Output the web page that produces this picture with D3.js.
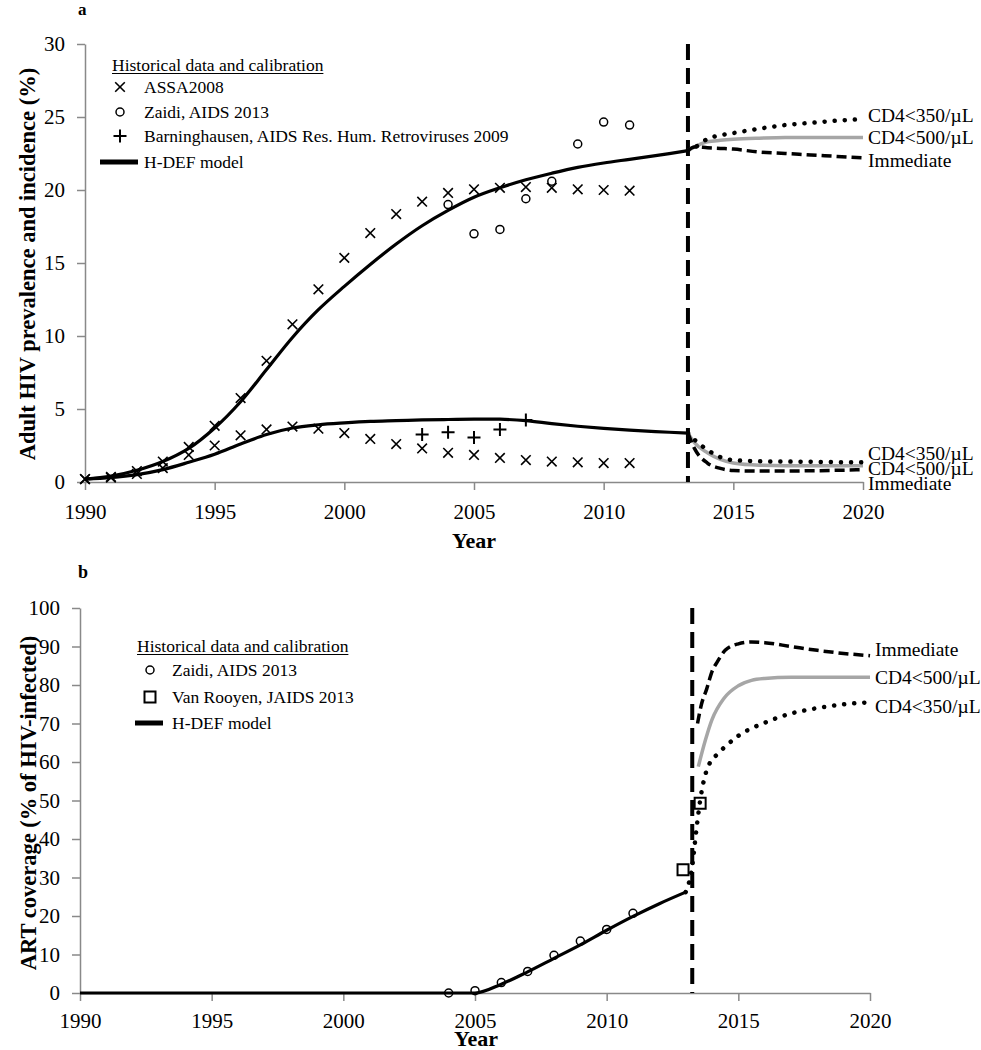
<!DOCTYPE html>
<html lang="en">
  <head>
    <meta charset="UTF-8" />
    <script src="https://d3js.org/d3.v7.min.js"></script>
    <style>
      body { margin: 0; background: #fff; }
      text { font-family: 'Liberation Serif', 'Times New Roman', serif; fill: #000; }
    </style>
  </head>
  <body>
    <div id="chart"></div>
    <script>
      // ---------- data ----------
      const xTicks = [1990, 1995, 2000, 2005, 2010, 2015, 2020]
      const yTicksA = [0, 5, 10, 15, 20, 25, 30]
      const yTicksB = [0, 10, 20, 30, 40, 50, 60, 70, 80, 90, 100]
      const interventionYear = 2013.25

      // panel a: historical data
      const assaYears = [1990, 1991, 1992, 1993, 1994, 1995, 1996, 1997, 1998, 1999, 2000,
        2001, 2002, 2003, 2004, 2005, 2006, 2007, 2008, 2009, 2010, 2011]
      const assaPrevalence = [0.2, 0.35, 0.75, 1.4, 2.4, 3.85, 5.75, 8.3, 10.8, 13.2, 15.35,
        17.05, 18.35, 19.2, 19.8, 20.05, 20.15, 20.2, 20.15, 20.05, 20.0, 19.95]
      const assaIncidence = [0.2, 0.3, 0.55, 0.95, 1.85, 2.5, 3.2, 3.6, 3.8, 3.65, 3.35,
        2.95, 2.6, 2.3, 2.0, 1.85, 1.65, 1.5, 1.4, 1.35, 1.3, 1.3]
      const zaidiPrevYears = [2004, 2005, 2006, 2007, 2008, 2009, 2010, 2011]
      const zaidiPrevalence = [19.0, 17.0, 17.3, 19.4, 20.6, 23.15, 24.65, 24.45]
      const barnYears = [2003, 2004, 2005, 2006, 2007]
      const barnIncidence = [3.25, 3.4, 3.05, 3.6, 4.25]

      // panel a: H-DEF model
      const modelYearsA = [1990, 1991, 1992, 1993, 1994, 1995, 1996, 1997, 1998, 1999, 2000,
        2001, 2002, 2003, 2004, 2005, 2006, 2007, 2008, 2009, 2010, 2011, 2012, 2013.25]
      const modelPrevalence = [0.2, 0.4, 0.8, 1.4, 2.3, 3.7, 5.5, 7.7, 9.9, 11.8, 13.4,
        14.9, 16.3, 17.55, 18.6, 19.5, 20.15, 20.7, 21.15, 21.55, 21.85, 22.1, 22.35, 22.7]
      const modelIncidence = [0.2, 0.3, 0.5, 0.85, 1.35, 1.9, 2.6, 3.25, 3.7, 3.92, 4.05,
        4.15, 4.2, 4.25, 4.28, 4.3, 4.3, 4.2, 4.0, 3.82, 3.67, 3.55, 3.45, 3.35]

      // panel a: scenarios
      const scenYearsA = [2013.25, 2013.5, 2014, 2014.5, 2015, 2016, 2017, 2018, 2019, 2020]
      const prev350 = [22.7, 22.9, 23.5, 23.75, 23.9, 24.2, 24.45, 24.6, 24.75, 24.85]
      const prev500 = [22.7, 22.95, 23.3, 23.4, 23.47, 23.55, 23.6, 23.6, 23.6, 23.6]
      const prevImmediate = [22.7, 22.95, 22.9, 22.85, 22.8, 22.6, 22.5, 22.4, 22.3, 22.2]
      const inc350 = [3.35, 2.9, 2.2, 1.7, 1.5, 1.42, 1.4, 1.38, 1.36, 1.35]
      const inc500 = [3.35, 2.7, 2.0, 1.55, 1.3, 1.15, 1.12, 1.12, 1.12, 1.12]
      const incImmediate = [3.35, 2.3, 1.3, 0.93, 0.78, 0.75, 0.75, 0.77, 0.8, 0.85]

      // panel b: ART coverage
      const zaidiArtYears = [2004, 2005, 2006, 2007, 2008, 2009, 2010, 2011]
      const zaidiArt = [0, 0.6, 2.7, 5.6, 9.8, 13.5, 16.5, 20.7]
      const vanRooyenYears = [2012.9, 2013.55]
      const vanRooyenArt = [32, 49.3]
      const modelYearsB = [1990, 1995, 2000, 2004, 2005, 2006, 2007, 2008, 2009, 2010, 2011, 2012, 2013]
      const modelArt = [0, 0, 0, 0, 0, 2.3, 5.5, 9.0, 12.5, 16.3, 19.9, 23.2, 26.2]
      const art350Years = [2013, 2013.25, 2013.4, 2013.55, 2013.7, 2013.9, 2014.2, 2014.5, 2015, 2016, 2017, 2018, 2019, 2020]
      const art350 = [26.2, 33, 42, 50, 55.5, 59.5, 62, 64, 66.8, 70.2, 72.6, 74, 75, 75.5]
      const art500Years = [2013.48, 2013.75, 2014, 2014.45, 2015, 2015.5, 2016, 2017, 2018, 2019, 2020]
      const art500 = [58.8, 65.7, 71, 76.5, 79.8, 81.2, 81.7, 82, 82, 82, 82]
      const artImmYears = [2013.45, 2013.6, 2013.8, 2014, 2014.2, 2014.5, 2015, 2015.5, 2016, 2017, 2018, 2019, 2020]
      const artImmediate = [70, 75, 79, 83.5, 86, 89, 90.7, 91.2, 91, 90, 89, 88.2, 87.6]

      // ---------- setup ----------
      const width = 981, height = 1050
      const serif = "'Liberation Serif', 'Times New Roman', serif"
      const svg = d3.select('#chart').append('svg')
        .attr('width', width).attr('height', height)
        .style('font-family', serif)

      const axisColor = '#898989'
      const grayLine = '#a6a6a6'

      const styles = {
        model: { stroke: '#000', width: 3.2, dash: null, cap: 'butt' },
        dotted: { stroke: '#000', width: 4.5, dash: '0.1,10', cap: 'round' },
        gray: { stroke: grayLine, width: 3.5, dash: null, cap: 'butt' },
        dashed: { stroke: '#000', width: 3.5, dash: '10,5', cap: 'butt' }
      }

      function markerPath(type, s) {
        if (type === 'x') return `M${-s},${-s}L${s},${s}M${-s},${s}L${s},${-s}`
        if (type === 'plus') return `M${-s},0L${s},0M0,${-s}L0,${s}`
        if (type === 'square') return `M${-s},${-s}H${s}V${s}H${-s}Z`
        return ''
      }

      function drawMarker(g, type, cx, cy) {
        if (type === 'circle') {
          g.append('circle').attr('cx', cx).attr('cy', cy).attr('r', 4)
            .attr('fill', 'none').attr('stroke', '#000').attr('stroke-width', 1.5)
        } else {
          const s = type === 'x' ? 4.8 : type === 'plus' ? 6.5 : 5.5
          g.append('path').attr('d', markerPath(type, s))
            .attr('transform', `translate(${cx},${cy})`)
            .attr('fill', 'none').attr('stroke', '#000')
            .attr('stroke-width', type === 'x' ? 1.6 : 2)
        }
      }

      function drawLine(g, x, y, xs, ys, st, curve) {
        const line = d3.line().x(d => x(d[0])).y(d => y(d[1])).curve(curve || d3.curveMonotoneX)
        g.append('path')
          .datum(d3.zip(xs, ys))
          .attr('d', line)
          .attr('fill', 'none')
          .attr('stroke', st.stroke)
          .attr('stroke-width', st.width)
          .attr('stroke-dasharray', st.dash)
          .attr('stroke-linecap', st.cap)
      }

      function drawAxes(g, x, y, yTicks, xLabelOffset) {
        const ax = g.append('g')
          .attr('transform', `translate(0,${y.range()[0]})`)
          .call(d3.axisBottom(x).tickValues(xTicks).tickFormat(d3.format('d'))
            .tickSize(8).tickSizeOuter(0).tickPadding(xLabelOffset))
        const ay = g.append('g')
          .attr('transform', `translate(${x.range()[0]},0)`)
          .call(d3.axisLeft(y).tickValues(yTicks).tickSize(8).tickSizeOuter(0).tickPadding(12))
        ;[ax, ay].forEach(a => {
          a.attr('font-family', null).style('font-family', serif)
          a.select('.domain').attr('stroke', axisColor).attr('stroke-width', 1.5)
          a.selectAll('.tick line').attr('stroke', axisColor).attr('stroke-width', 1.5)
          a.selectAll('.tick text').attr('font-size', 21)
            .style('font-family', serif).attr('fill', '#000')
        })
      }

      function drawLegend(g, lx, headerY, items, textX) {
        const header = g.append('text').attr('x', lx).attr('y', headerY)
          .attr('font-size', 17.5).text('Historical data and calibration')
        const w = header.node().getComputedTextLength()
        g.append('line').attr('x1', lx).attr('x2', lx + w)
          .attr('y1', headerY + 2.5).attr('y2', headerY + 2.5)
          .attr('stroke', '#000').attr('stroke-width', 1)
        items.forEach(it => {
          const cy = it.y
          if (it.type === 'line') {
            g.append('line').attr('x1', it.x1).attr('x2', it.x2)
              .attr('y1', cy).attr('y2', cy)
              .attr('stroke', '#000').attr('stroke-width', 5)
          } else {
            drawMarker(g, it.type, it.mx, cy)
          }
          g.append('text').attr('x', textX).attr('y', cy)
            .attr('dy', '0.33em').attr('font-size', 17.5).text(it.label)
        })
      }

      function drawEndLabels(g, x, y, labels) {
        labels.forEach(l => {
          g.append('text').attr('x', x(2020) + 5).attr('y', y(l.value) + l.dy)
            .attr('dy', '0.33em').attr('font-size', 19.5).text(l.text)
        })
      }

      // ---------- panel a ----------
      const xA = d3.scaleLinear().domain([1990, 2020]).range([85, 863])
      const yA = d3.scaleLinear().domain([0, 30]).range([482, 44])
      const gA = svg.append('g')

      drawAxes(gA, xA, yA, yTicksA, 14)

      // intervention line
      gA.append('line')
        .attr('x1', xA(interventionYear)).attr('x2', xA(interventionYear))
        .attr('y1', yA(30)).attr('y2', yA(0))
        .attr('stroke', '#000').attr('stroke-width', 4).attr('stroke-dasharray', '16,8')

      const smooth = d3.curveCatmullRom.alpha(0.5)
      drawLine(gA, xA, yA, modelYearsA, modelPrevalence, styles.model, smooth)
      drawLine(gA, xA, yA, modelYearsA, modelIncidence, styles.model, smooth)
      drawLine(gA, xA, yA, scenYearsA, prev500, styles.gray)
      drawLine(gA, xA, yA, scenYearsA, inc500, styles.gray)
      drawLine(gA, xA, yA, scenYearsA, prev350, styles.dotted)
      drawLine(gA, xA, yA, scenYearsA, inc350, styles.dotted)
      drawLine(gA, xA, yA, scenYearsA, prevImmediate, styles.dashed)
      drawLine(gA, xA, yA, scenYearsA, incImmediate, styles.dashed)

      assaYears.forEach((yr, i) => {
        drawMarker(gA, 'x', xA(yr), yA(assaPrevalence[i]))
        drawMarker(gA, 'x', xA(yr), yA(assaIncidence[i]))
      })
      zaidiPrevYears.forEach((yr, i) => drawMarker(gA, 'circle', xA(yr), yA(zaidiPrevalence[i])))
      barnYears.forEach((yr, i) => drawMarker(gA, 'plus', xA(yr), yA(barnIncidence[i])))

      drawEndLabels(gA, xA, yA, [
        { text: 'CD4<350/\u00b5L', value: prev350[prev350.length - 1], dy: -4 },
        { text: 'CD4<500/\u00b5L', value: prev500[prev500.length - 1], dy: 0 },
        { text: 'Immediate', value: prevImmediate[prevImmediate.length - 1], dy: 3 },
        { text: 'CD4<350/\u00b5L', value: inc350[inc350.length - 1], dy: -9 },
        { text: 'CD4<500/\u00b5L', value: inc500[inc500.length - 1], dy: 3 },
        { text: 'Immediate', value: incImmediate[incImmediate.length - 1], dy: 14 }
      ])

      drawLegend(gA, 112, 71, [
        { type: 'x', mx: 120, y: 87, label: 'ASSA2008' },
        { type: 'circle', mx: 120, y: 112, label: 'Zaidi, AIDS 2013' },
        { type: 'plus', mx: 120, y: 136, label: 'Barninghausen, AIDS Res. Hum. Retroviruses 2009' },
        { type: 'line', x1: 100, x2: 138, y: 162, label: 'H-DEF model' }
      ], 144)

      gA.append('text').attr('x', 78).attr('y', 15)
        .attr('font-size', 17).attr('font-weight', 'bold').text('a')
      gA.append('text')
        .attr('transform', `translate(35,264) rotate(-90)`)
        .attr('text-anchor', 'middle').attr('font-size', 22.5).attr('font-weight', 'bold')
        .text('Adult HIV prevalence and incidence (%)')
      gA.append('text').attr('x', (xA(1990) + xA(2020)) / 2).attr('y', 548)
        .attr('text-anchor', 'middle').attr('font-size', 22).attr('font-weight', 'bold')
        .text('Year')

      // ---------- panel b ----------
      const xB = d3.scaleLinear().domain([1990, 2020]).range([80, 870])
      const yB = d3.scaleLinear().domain([0, 100]).range([993, 608])
      const gB = svg.append('g')

      drawAxes(gB, xB, yB, yTicksB, 12)

      gB.append('line')
        .attr('x1', xB(interventionYear)).attr('x2', xB(interventionYear))
        .attr('y1', yB(100)).attr('y2', yB(0))
        .attr('stroke', '#000').attr('stroke-width', 4).attr('stroke-dasharray', '16,8')

      drawLine(gB, xB, yB, modelYearsB, modelArt, styles.model)
      drawLine(gB, xB, yB, art500Years, art500, styles.gray)
      drawLine(gB, xB, yB, art350Years, art350, styles.dotted)
      drawLine(gB, xB, yB, artImmYears, artImmediate, styles.dashed)

      zaidiArtYears.forEach((yr, i) => drawMarker(gB, 'circle', xB(yr), yB(zaidiArt[i])))
      vanRooyenYears.forEach((yr, i) => drawMarker(gB, 'square', xB(yr), yB(vanRooyenArt[i])))

      drawEndLabels(gB, xB, yB, [
        { text: 'Immediate', value: artImmediate[artImmediate.length - 1], dy: -6 },
        { text: 'CD4<500/\u00b5L', value: art500[art500.length - 1], dy: 0 },
        { text: 'CD4<350/\u00b5L', value: art350[art350.length - 1], dy: 4 }
      ])

      drawLegend(gB, 137, 652, [
        { type: 'circle', mx: 150, y: 670, label: 'Zaidi, AIDS 2013' },
        { type: 'square', mx: 150, y: 697, label: 'Van Rooyen, JAIDS 2013' },
        { type: 'line', x1: 135, x2: 163, y: 723, label: 'H-DEF model' }
      ], 172)

      gB.append('text').attr('x', 78).attr('y', 578)
        .attr('font-size', 18).attr('font-weight', 'bold').text('b')
      gB.append('text')
        .attr('transform', `translate(36,803) rotate(-90)`)
        .attr('text-anchor', 'middle').attr('font-size', 22.5).attr('font-weight', 'bold')
        .text('ART coverage (% of HIV-infected)')
      gB.append('text').attr('x', 476).attr('y', 1046)
        .attr('text-anchor', 'middle').attr('font-size', 22).attr('font-weight', 'bold')
        .text('Year')
    </script>
  </body>
</html>
